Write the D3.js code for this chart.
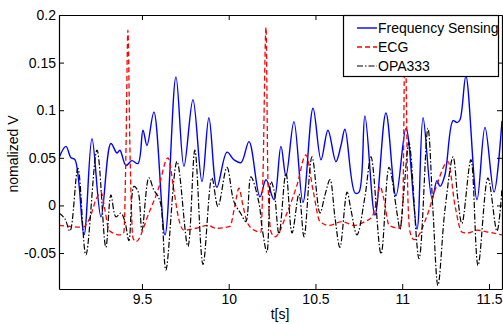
<!DOCTYPE html>
<html>
<head>
<meta charset="utf-8">
<script src="https://cdnjs.cloudflare.com/ajax/libs/d3/7.8.5/d3.min.js"></script>
<style>
  body { margin: 0; background: #fff; }
  svg { display: block; font-family: "Liberation Sans", Arial, sans-serif; }
  .axis text { font-size: 14px; fill: #000; }
  .axis path, .axis line { stroke: #000; }
</style>
</head>
<body>
<svg id="chart" width="503" height="324"></svg>
<script>
// values
var fsTime = [9.022,9.062,9.091,9.114,9.166,9.212,9.264,9.321,9.356,9.373,
  9.408,9.442,9.477,9.506,9.529,9.569,9.633,9.696,9.742,9.794,
  9.846,9.886,9.932,9.990,10.030,10.071,10.117,10.180,10.215,10.261,
  10.301,10.330,10.376,10.428,10.486,10.532,10.572,10.618,10.647,10.670,
  10.728,10.751,10.785,10.843,10.906,10.964,11.022,11.085,11.120,11.172,
  11.200,11.218,11.246,11.293,11.316,11.333,11.367,11.431,11.477,11.529,
  11.575];
var fsValue = [0.050,0.062,0.050,0.048,-0.031,0.070,-0.012,0.065,0.055,0.058,
  0.042,0.047,0.044,0.079,0.063,0.098,-0.031,0.135,0.041,0.111,
  0.025,0.092,0.019,0.056,0.048,0.045,0.067,0.009,0.027,0.006,
  0.062,0.031,0.088,0.003,0.102,0.048,0.079,0.046,0.063,0.080,
  0.013,0.014,0.094,-0.010,0.097,0.010,0.081,-0.025,0.092,0.007,
  0.026,0.020,0.032,0.089,0.087,0.090,0.136,0.006,0.082,0.014,
  0.089];

var ecgTime = [9.022,9.085,9.160,9.200,9.235,9.264,9.287,9.310,9.373,9.396,
  9.408,9.419,9.431,9.448,9.465,9.540,9.592,9.650,9.684,9.713,
  9.742,9.811,9.880,9.927,10.007,10.036,10.059,10.082,10.105,10.146,
  10.186,10.197,10.215,10.226,10.244,10.267,10.336,10.393,10.445,10.486,
  10.526,10.578,10.653,10.722,10.785,10.826,10.855,10.872,10.895,10.924,
  10.987,11.004,11.016,11.033,11.045,11.068,11.143,11.200,11.264,11.304,
  11.344,11.379,11.431,11.494,11.575];
var ecgValue = [-0.021,-0.022,-0.023,-0.013,0.006,0.014,-0.005,-0.026,-0.031,-0.028,
  0.058,0.184,0.058,-0.034,-0.038,-0.008,0.016,0.050,0.016,-0.015,
  -0.026,-0.024,-0.021,-0.024,-0.022,0.000,0.018,0.000,-0.017,-0.026,
  -0.028,0.027,0.187,0.027,-0.028,-0.033,-0.008,0.021,0.053,0.016,
  -0.017,-0.021,-0.017,-0.021,-0.017,-0.012,0.006,0.020,0.006,-0.021,
  -0.024,0.006,0.184,0.006,-0.028,-0.036,-0.011,0.022,0.046,0.000,
  -0.028,-0.029,-0.026,-0.028,-0.031];

var opaTime = [9.022,9.056,9.085,9.131,9.177,9.241,9.292,9.321,9.350,9.379,
  9.402,9.425,9.454,9.477,9.500,9.540,9.569,9.592,9.610,9.638,
  9.702,9.765,9.805,9.852,9.903,9.938,9.990,10.030,10.071,10.099,
  10.128,10.174,10.192,10.220,10.244,10.261,10.290,10.330,10.365,10.405,
  10.434,10.480,10.526,10.555,10.584,10.612,10.641,10.682,10.705,10.739,
  10.785,10.820,10.878,10.924,10.970,10.987,11.010,11.039,11.097,11.148,
  11.177,11.206,11.246,11.293,11.321,11.344,11.396,11.437,11.494,11.546,
  11.575];
var opaValue = [-0.008,-0.014,-0.027,0.039,-0.052,0.058,-0.044,0.011,-0.012,-0.008,
  -0.017,-0.037,0.020,0.015,-0.026,0.029,0.016,0.010,0.000,-0.068,
  0.046,-0.043,0.058,-0.062,0.029,-0.001,0.040,0.004,-0.009,-0.017,
  0.030,0.003,-0.023,-0.049,0.025,0.016,-0.030,0.034,-0.029,0.012,
  -0.033,0.051,-0.008,0.011,0.027,-0.012,-0.044,0.014,-0.005,-0.031,
  0.009,0.051,-0.051,0.040,-0.008,-0.025,0.016,0.066,-0.056,0.081,
  -0.005,-0.084,-0.005,0.051,0.006,-0.019,0.048,-0.063,0.029,-0.027,
  0.018];

var xTicks = [9.5, 10, 10.5, 11, 11.5];
var yTicks = [-0.05, 0, 0.05, 0.1, 0.15, 0.2];
var legendNames = ["Frequency Sensing", "ECG", "OPA333"];

var W = 503, H = 324;
var margin = {top: 15, right: 1, bottom: 35, left: 59};
var w = W - margin.left - margin.right;
var h = H - margin.top - margin.bottom;

var svg = d3.select("#chart");
var g = svg.append("g").attr("transform", "translate(" + margin.left + "," + margin.top + ")");

var x = d3.scaleLinear().domain([9.022, 11.575]).range([0, w]);
var y = d3.scaleLinear().domain([-0.0878, 0.2]).range([h, 0]);

g.append("defs").append("clipPath").attr("id", "clip")
  .append("rect").attr("width", w).attr("height", h);

// smooth curve for the two sensor traces, monotone for ecg so the spikes don't overshoot
var series = [
  {name: legendNames[0], t: fsTime, v: fsValue, color: "#0000ff", dash: null, width: 1.4, curve: d3.curveCatmullRom.alpha(0.5)},
  {name: legendNames[1], t: ecgTime, v: ecgValue, color: "#ff0000", dash: "5,3", width: 1.3, curve: d3.curveMonotoneX},
  {name: legendNames[2], t: opaTime, v: opaValue, color: "#000000", dash: "6,2,1.5,2", width: 1.2, curve: d3.curveCatmullRom.alpha(0.5)}
];

var lines = g.append("g").attr("clip-path", "url(#clip)");
series.forEach(function(s) {
  var pts = s.t.map(function(t, i) { return [t, s.v[i]]; });
  var line = d3.line()
    .x(function(d) { return x(d[0]); })
    .y(function(d) { return y(d[1]); })
    .curve(s.curve);
  lines.append("path")
    .datum(pts)
    .attr("fill", "none")
    .attr("stroke", s.color)
    .attr("stroke-width", s.width)
    .attr("stroke-dasharray", s.dash)
    .attr("d", line);
});

// axes, ticks pointing inward like matlab
var fmt = function(d) { return String(d); };
g.append("g").attr("class", "axis").attr("transform", "translate(0," + h + ")")
  .call(d3.axisBottom(x).tickValues(xTicks).tickFormat(fmt).tickSize(-5).tickSizeOuter(0).tickPadding(5));
g.append("g").attr("class", "axis")
  .call(d3.axisLeft(y).tickValues(yTicks).tickFormat(fmt).tickSize(-5).tickSizeOuter(0).tickPadding(3));
g.append("g").attr("class", "axis")
  .call(d3.axisTop(x).tickValues(xTicks).tickFormat("").tickSize(-5).tickSizeOuter(0));
g.append("g").attr("class", "axis").attr("transform", "translate(" + w + ",0)")
  .call(d3.axisRight(y).tickValues(yTicks).tickFormat("").tickSize(-5).tickSizeOuter(0));
g.selectAll(".axis path").attr("stroke-width", 1.2);

// labels
svg.append("text")
  .attr("x", 280).attr("y", 319)
  .attr("text-anchor", "middle")
  .style("font-size", "14px")
  .text("t[s]");
svg.append("text")
  .attr("transform", "translate(18,154) rotate(-90)")
  .attr("text-anchor", "middle")
  .style("font-size", "14px")
  .text("nomalized V");

// legend
var lg = g.append("g").attr("transform", "translate(" + (w - 159) + ",0)");
lg.append("rect")
  .attr("x", 0.5).attr("y", 0.5)
  .attr("width", 155).attr("height", 61)
  .attr("fill", "#fff").attr("stroke", "#000").attr("stroke-width", 1.2);
series.forEach(function(s, i) {
  var yy = 13 + i * 19;
  lg.append("line")
    .attr("x1", 14).attr("x2", 34)
    .attr("y1", yy).attr("y2", yy)
    .attr("stroke", s.color)
    .attr("stroke-width", s.width)
    .attr("stroke-dasharray", s.dash);
  lg.append("text")
    .attr("x", 35).attr("y", yy)
    .attr("dy", "0.35em")
    .style("font-size", "14px")
    .text(s.name);
});
</script>
</body>
</html>
